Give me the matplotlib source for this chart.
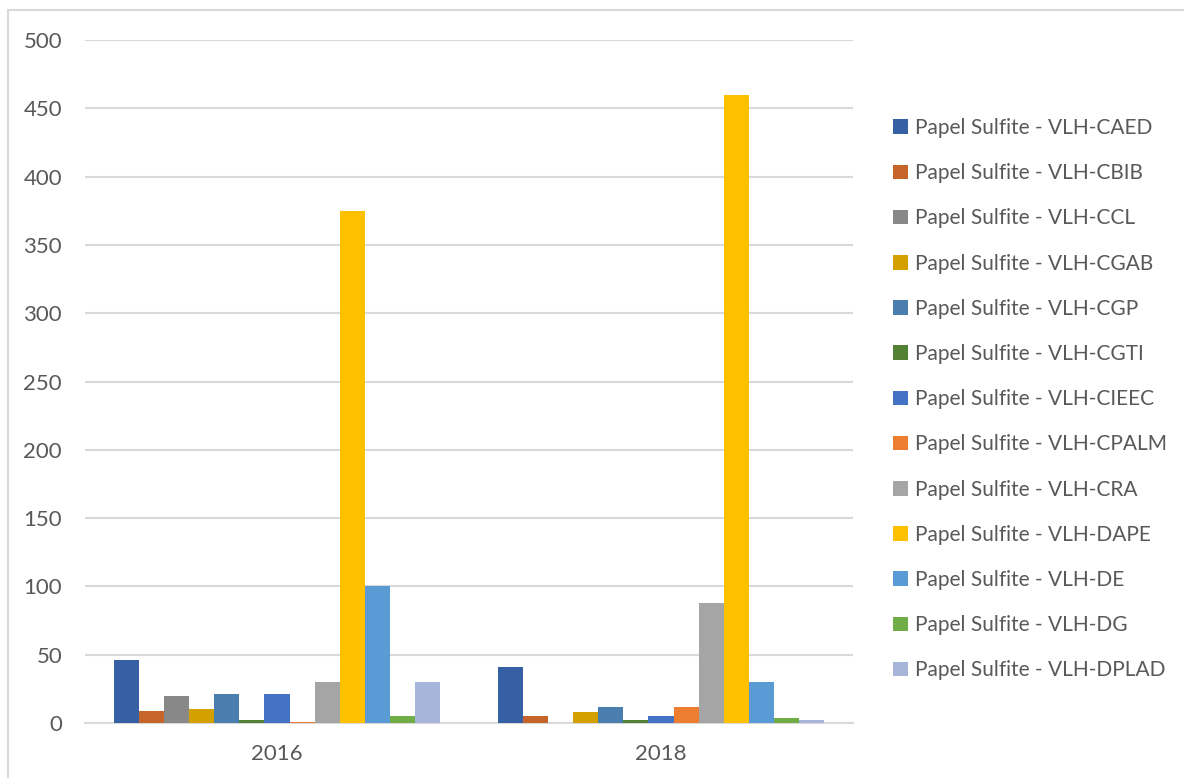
import matplotlib.pyplot as plt
import numpy as np
from matplotlib.patches import Rectangle

plt.rcParams['font.family'] = ['Lato', 'DejaVu Sans']

years = ['2016', '2018']
series = ['Papel Sulfite - VLH-CAED', 'Papel Sulfite - VLH-CBIB', 'Papel Sulfite - VLH-CCL',
          'Papel Sulfite - VLH-CGAB', 'Papel Sulfite - VLH-CGP', 'Papel Sulfite - VLH-CGTI',
          'Papel Sulfite - VLH-CIEEC', 'Papel Sulfite - VLH-CPALM', 'Papel Sulfite - VLH-CRA',
          'Papel Sulfite - VLH-DAPE', 'Papel Sulfite - VLH-DE', 'Papel Sulfite - VLH-DG',
          'Papel Sulfite - VLH-DPLAD']
values_2016 = [46, 9, 20, 10, 21, 2, 21, 1, 30, 375, 100, 5, 30]
values_2018 = [41, 5, 0, 8, 12, 2, 5, 12, 88, 460, 30, 4, 2]
colors = ['#375FA3', '#C5652A', '#888888', '#D4A000', '#4A7EAF', '#548235',
          '#4472C4', '#ED7D31', '#A5A5A5', '#FFC000', '#5B9BD5', '#70AD47', '#A7B5DA']

text_color = '#595959'
grid_color = '#D9D9D9'

fig = plt.figure(figsize=(11.84, 7.78), dpi=100)
ax = fig.add_axes([85 / 1184, 1 - 723 / 778, 768 / 1184, 683 / 778])

# outer chart border
fig.patches.append(Rectangle((8 / 1184, -0.1), 1.2, 1 - 10 / 778 + 0.1, transform=fig.transFigure,
                             fill=False, edgecolor=grid_color, linewidth=1.5, zorder=0))

x = np.arange(len(years))
n = len(series)
width = 0.85 / n
data = np.array([values_2016, values_2018])
handles = []
for i, name in enumerate(series):
    offs = (i - (n - 1) / 2) * width
    b = ax.bar(x + offs, data[:, i], width=width, color=colors[i], label=name, zorder=3)
    handles.append(b)

ax.set_xlim(-0.5, 1.5)
ax.set_ylim(0, 500)
ax.set_yticks(np.arange(0, 501, 50))
ax.set_xticks(x)
ax.set_xticklabels(years)
ax.yaxis.grid(True, color=grid_color, linewidth=1.5, zorder=0)
ax.set_axisbelow(True)
for s in ['top', 'right', 'left']:
    ax.spines[s].set_visible(False)
ax.spines['bottom'].set_color(grid_color)
ax.spines['bottom'].set_linewidth(1.5)
ax.tick_params(axis='both', length=0, labelsize=16, labelcolor=text_color)
ax.tick_params(axis='y', pad=16.5)
ax.tick_params(axis='x', pad=15)

leg = fig.legend(handles=handles, labels=series, loc='upper left',
                 bbox_to_anchor=(893 / 1184, 1 - 118 / 778), frameon=False,
                 fontsize=15, labelcolor=text_color, handlelength=0.7, handleheight=0.7,
                 handletextpad=0.35, labelspacing=1.21, borderpad=0, borderaxespad=0)

fig.savefig('out.png', dpi=100)
